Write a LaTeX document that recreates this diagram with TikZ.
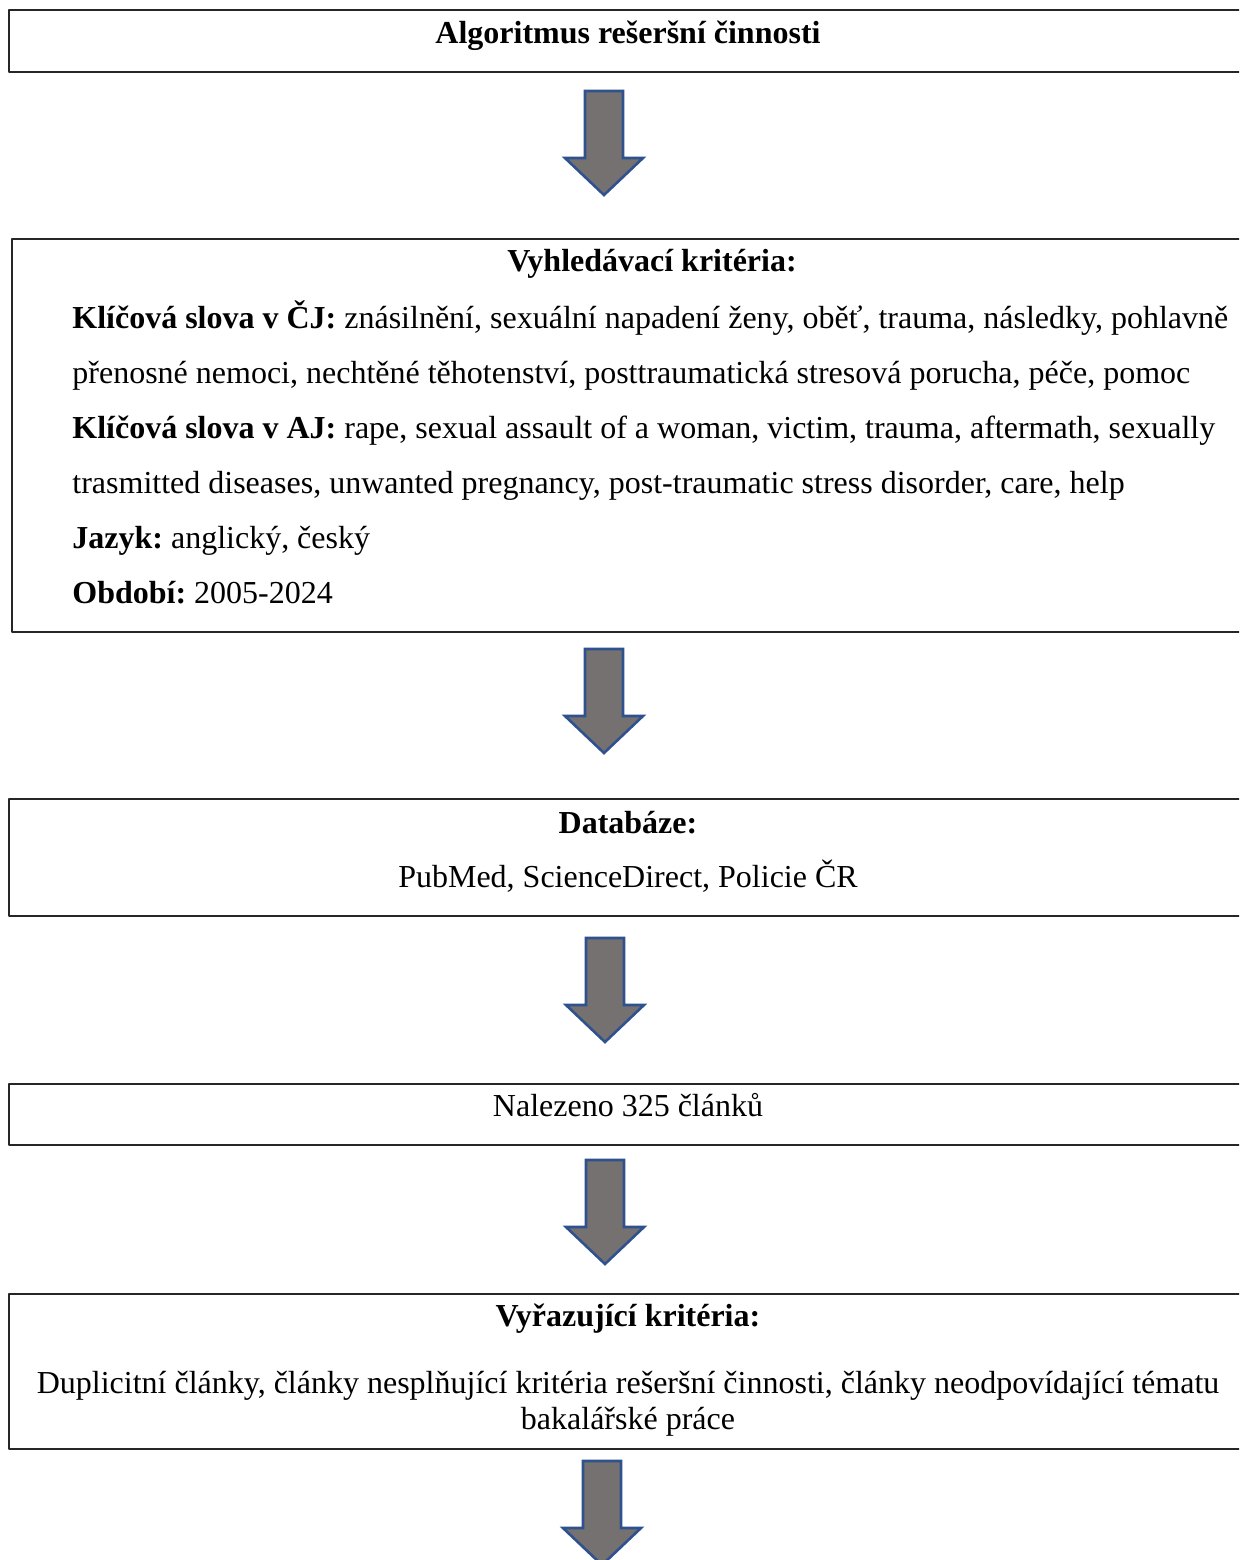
\documentclass[tikz,border=0pt]{standalone}
\usepackage{fontspec}
\setmainfont{Liberation Serif}
\usepackage{xcolor}
\definecolor{arrowgray}{HTML}{767171}
\definecolor{arrowblue}{HTML}{2F528F}
\tikzset{
  box/.style={draw=black!85, line width=1pt, anchor=north west, inner sep=0pt, minimum width=620pt},
  txt/.style={inner sep=0pt, font=\fontsize{16}{19}\selectfont\frenchspacing},
  boldtxt/.style={inner sep=0pt, font=\fontsize{16}{19}\selectfont\frenchspacing\bfseries},
  blockarrow/.pic={
    \draw[fill=arrowgray, draw=arrowblue, line width=1.3pt, line join=miter]
      (-19,0) -- (19,0) -- (19,67) -- (39,67) -- (0,104) -- (-39,67) -- (-19,67) -- cycle;
  }
}
\begin{document}
\begin{tikzpicture}[line cap=round,line join=round, x=0.5pt, y=-0.5pt]
\useasboundingbox (0,0) rectangle (1239,1560);
\clip (0,0) rectangle (1239,1560);
\fill[white] (0,0) rectangle (1239,1560);

\node[box, minimum height=31pt] (title) at (8,9) {};
\node[boldtxt, anchor=base] (titletext) at (628,43) {Algoritmus rešeršní činnosti};

\node[box, minimum width=618.5pt, minimum height=196.5pt] (criteria) at (11,238) {};
\node[boldtxt, anchor=base] (criteriahead) at (652,271) {Vyhledávací kritéria:};
\node[txt, anchor=base west] (keycz) at (72,328) {\textbf{Klíčová slova v ČJ:} znásilnění, sexuální napadení ženy, oběť, trauma, následky, pohlavně};
\node[txt, anchor=base west] (keycztwo) at (72,383) {přenosné nemoci, nechtěné těhotenství, posttraumatická stresová porucha, péče, pomoc};
\node[txt, anchor=base west] (keyen) at (72,438) {\textbf{Klíčová slova v AJ:} rape, sexual assault of a woman, victim, trauma, aftermath, sexually};
\node[txt, anchor=base west] (keyentwo) at (72,493) {trasmitted diseases, unwanted pregnancy, post-traumatic stress disorder, care, help};
\node[txt, anchor=base west] (language) at (72,548) {\textbf{Jazyk:} anglický, český};
\node[txt, anchor=base west] (period) at (72,603) {\textbf{Období:} 2005-2024};

\node[box, minimum height=58.5pt] (databases) at (8,798) {};
\node[boldtxt, anchor=base] (databaseshead) at (628,833) {Databáze:};
\node[txt, anchor=base] (databaseslist) at (628,887) {PubMed, ScienceDirect, Policie ČR};

\node[box, minimum height=30.5pt] (found) at (8,1083) {};
\node[txt, anchor=base] (foundtext) at (628,1116) {Nalezeno 325 článků};

\node[box, minimum height=77.5pt] (exclusion) at (8,1293) {};
\node[boldtxt, anchor=base] (exclusionhead) at (628,1326) {Vyřazující kritéria:};
\node[txt, anchor=base] (exclusionone) at (628,1393) {Duplicitní články, články nesplňující kritéria rešeršní činnosti, články neodpovídající tématu};
\node[txt, anchor=base] (exclusiontwo) at (628,1429) {bakalářské práce};

\pic at ([xshift=-12.5pt, yshift=-9pt]title.south) {blockarrow};
\pic at ([xshift=-13.25pt, yshift=-8pt]criteria.south) {blockarrow};
\pic at ([xshift=-12pt, yshift=-10.5pt]databases.south) {blockarrow};
\pic at ([xshift=-12pt, yshift=-7pt]found.south) {blockarrow};
\pic at ([xshift=-13.5pt, yshift=-5.5pt]exclusion.south) {blockarrow};
\end{tikzpicture}
\end{document}
